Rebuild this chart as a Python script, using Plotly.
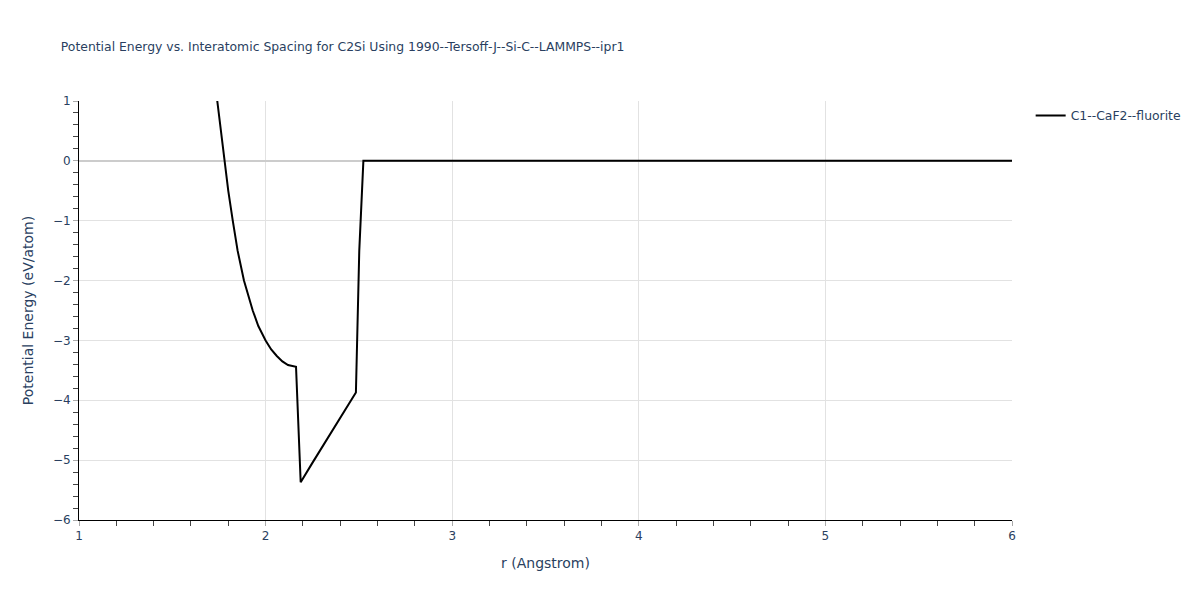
import plotly.graph_objects as go

r_values = [1.741, 1.76, 1.78, 1.80, 1.824, 1.85, 1.884, 1.907, 1.931, 1.961, 2.00, 2.03, 2.06, 2.09,
            2.12, 2.163, 2.188, 2.25, 2.484, 2.502, 2.524, 6.0]
energy_values = [1.0, 0.5, 0.0, -0.5, -1.0, -1.5, -2.0, -2.25, -2.5, -2.76, -3.0, -3.15, -3.26, -3.35,
                 -3.41, -3.44, -5.37, -5.05, -3.87, -1.5, 0.0, 0.0]
series_name = "C1--CaF2--fluorite"
title_text = "Potential Energy vs. Interatomic Spacing for C2Si Using 1990--Tersoff-J--Si-C--LAMMPS--ipr1"

FONT = "DejaVu Sans"

fig = go.Figure()
fig.add_trace(go.Scatter(x=r_values, y=energy_values, mode="lines", name=series_name,
                         line=dict(color="black", width=2)))

axis_common = dict(
    showline=True, linecolor="black", linewidth=1,
    ticks="outside", tickcolor="#aaaaaa", ticklen=5,
    showgrid=True, gridcolor="#e2e2e2", gridwidth=1,
    tickfont=dict(family=FONT, size=12, color="#2a3f5f"),
)

fig.update_layout(
    template="plotly_white",
    width=1200, height=600,
    font=dict(family=FONT, color="#2a3f5f"),
    margin=dict(l=71, r=196, t=93, b=88),
    title=dict(text=title_text, x=0.044, xanchor="left", y=0.935, yanchor="middle",
               font=dict(family=FONT, size=12.4, color="#2a3f5f")),
    showlegend=True,
    legend=dict(x=1.02, y=1, xanchor="left", yanchor="top", font=dict(family=FONT, size=12.4, color="#2a3f5f")),
    xaxis=dict(range=[1, 6], dtick=1, title=dict(text="r (Angstrom)", font=dict(family=FONT, size=14, color="#2a3f5f")),
               minor=dict(ticks="outside", dtick=0.2, ticklen=5, tickcolor="#444444", showgrid=False),
               zeroline=False, **axis_common),
    yaxis=dict(range=[-6, 1], dtick=1, title=dict(text="Potential Energy (eV/atom)", font=dict(family=FONT, size=14, color="#2a3f5f")),
               minor=dict(ticks="outside", dtick=0.2, ticklen=5, tickcolor="#444444", showgrid=False),
               zeroline=True, zerolinecolor="#cccccc", zerolinewidth=2, **axis_common),
)

fig.write_html("out.html")
